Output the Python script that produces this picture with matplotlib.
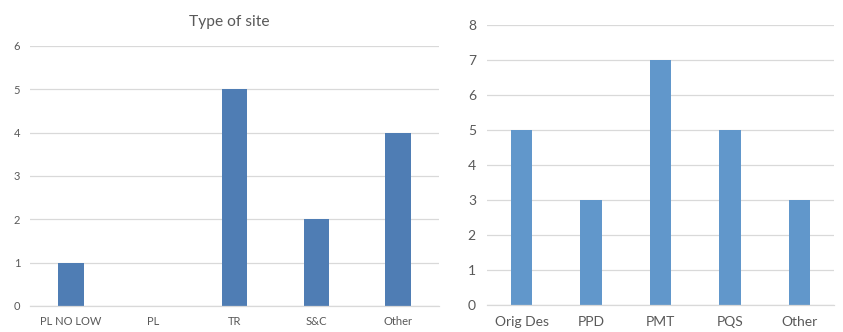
import matplotlib
matplotlib.use("Agg")
import matplotlib.pyplot as plt

plt.rcParams['font.family'] = ['Lato', 'DejaVu Sans']

site_categories = ["PL NO LOW", "PL", "TR", "S&C", "Other"]
site_values = [1, 0, 5, 2, 4]
site_yticks = [0, 1, 2, 3, 4, 5, 6]

role_categories = ["Orig Des", "PPD", "PMT", "PQS", "Other"]
role_values = [5, 3, 7, 5, 3]
role_yticks = [0, 1, 2, 3, 4, 5, 6, 7, 8]

W, H = 843, 332
fig = plt.figure(figsize=(W / 100, H / 100), dpi=100)

grid_c = "#D9D9D9"
text_c = "#595959"


def style(ax, yticks, fs, pad):
    ax.set_ylim(yticks[0], yticks[-1])
    ax.set_yticks(yticks)
    ax.yaxis.grid(True, color=grid_c, linewidth=0.9)
    ax.set_axisbelow(True)
    for s in ["top", "right", "left"]:
        ax.spines[s].set_visible(False)
    ax.spines["bottom"].set_color(grid_c)
    ax.spines["bottom"].set_linewidth(0.9)
    ax.tick_params(axis="both", length=0, labelsize=fs, labelcolor=text_c, pad=pad)


# Left chart
ax1 = fig.add_axes([30 / W, 1 - 306 / H, (439 - 30) / W, (306 - 46) / H])
x1 = range(len(site_categories))
ax1.bar(x1, site_values, width=0.31, color="#4F7DB4")
ax1.set_xticks(list(x1))
ax1.set_xticklabels(site_categories)
ax1.set_xlim(-0.5, len(site_categories) - 0.5)
style(ax1, site_yticks, 8, 7)
fig.text(229 / W, 1 - 22 / H, "Type of site", ha="center", va="center",
         fontsize=11.2, color=text_c)

# Right chart
ax2 = fig.add_axes([487 / W, 1 - 305 / H, (834 - 487) / W, (305 - 25) / H])
x2 = range(len(role_categories))
ax2.bar(x2, role_values, width=0.31, color="#6197CB")
ax2.set_xticks(list(x2))
ax2.set_xticklabels(role_categories)
ax2.set_xlim(-0.5, len(role_categories) - 0.5)
style(ax2, role_yticks, 10, 8)

fig.savefig("out.png", dpi=100)
